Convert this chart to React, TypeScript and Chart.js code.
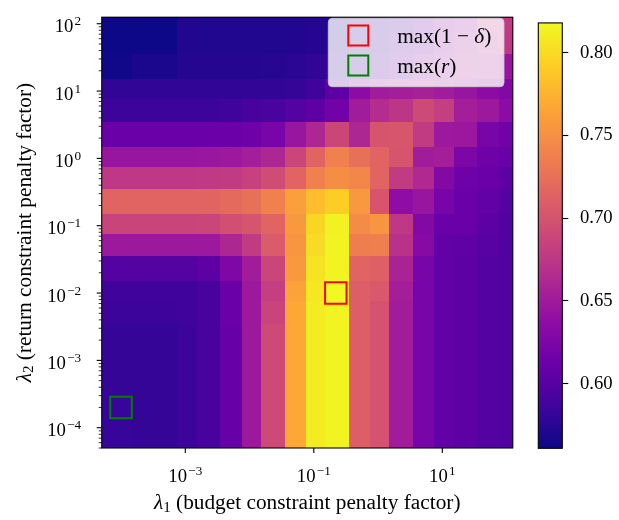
import React, { useEffect, useRef } from "react";
import { Chart, registerables } from "chart.js";
Chart.register(...registerables);

// ---------------- data ----------------
// λ1 (budget constraint penalty factor) – columns, left → right
const lambda1 = [1e-4, 2e-4, 5e-4, 1e-3, 2e-3, 5e-3, 1e-2, 2e-2, 5e-2, 0.1, 0.2, 0.5, 1, 2, 5, 10, 20, 50, 100];
// λ2 (return constraint penalty factor) – rows, top → bottom
const lambda2 = [100, 50, 20, 10, 5, 2, 1, 0.5, 0.2, 0.1, 0.05, 0.02, 0.01, 0.005, 0.002, 0.001, 5e-4, 2e-4, 1e-4];

// 1 − δ for every (λ2 row, λ1 column)
const oneMinusDelta: number[][] = [
  [0.561, 0.561, 0.561, 0.571, 0.571, 0.571, 0.571, 0.571, 0.571, 0.573, 0.573, 0.579, 0.584, 0.597, 0.612, 0.633, 0.645, 0.676, 0.679],
  [0.561, 0.561, 0.561, 0.571, 0.571, 0.571, 0.571, 0.571, 0.572, 0.573, 0.576, 0.581, 0.586, 0.599, 0.617, 0.638, 0.651, 0.669, 0.676],
  [0.563, 0.568, 0.568, 0.573, 0.573, 0.573, 0.573, 0.574, 0.576, 0.579, 0.581, 0.586, 0.594, 0.612, 0.633, 0.645, 0.653, 0.653, 0.645],
  [0.579, 0.579, 0.579, 0.579, 0.579, 0.579, 0.580, 0.580, 0.581, 0.586, 0.604, 0.635, 0.651, 0.653, 0.656, 0.651, 0.645, 0.635, 0.630],
  [0.584, 0.584, 0.584, 0.584, 0.584, 0.586, 0.591, 0.592, 0.599, 0.604, 0.617, 0.651, 0.666, 0.674, 0.692, 0.682, 0.653, 0.648, 0.635],
  [0.612, 0.612, 0.612, 0.612, 0.613, 0.613, 0.615, 0.622, 0.645, 0.661, 0.689, 0.661, 0.702, 0.703, 0.679, 0.648, 0.647, 0.622, 0.617],
  [0.645, 0.645, 0.645, 0.645, 0.646, 0.648, 0.653, 0.661, 0.689, 0.715, 0.738, 0.725, 0.715, 0.702, 0.651, 0.653, 0.625, 0.615, 0.612],
  [0.676, 0.676, 0.676, 0.676, 0.677, 0.679, 0.684, 0.694, 0.715, 0.738, 0.748, 0.743, 0.715, 0.679, 0.663, 0.630, 0.615, 0.612, 0.604],
  [0.715, 0.715, 0.715, 0.715, 0.715, 0.720, 0.725, 0.738, 0.761, 0.782, 0.792, 0.756, 0.702, 0.638, 0.645, 0.622, 0.612, 0.607, 0.599],
  [0.687, 0.687, 0.687, 0.687, 0.689, 0.697, 0.702, 0.715, 0.756, 0.797, 0.813, 0.746, 0.754, 0.676, 0.630, 0.612, 0.612, 0.604, 0.597],
  [0.648, 0.648, 0.648, 0.648, 0.648, 0.661, 0.679, 0.707, 0.754, 0.800, 0.815, 0.736, 0.737, 0.671, 0.633, 0.607, 0.606, 0.602, 0.597],
  [0.599, 0.599, 0.599, 0.599, 0.604, 0.627, 0.651, 0.689, 0.756, 0.805, 0.815, 0.715, 0.712, 0.658, 0.622, 0.607, 0.604, 0.599, 0.597],
  [0.586, 0.586, 0.586, 0.586, 0.591, 0.612, 0.648, 0.682, 0.764, 0.808, 0.818, 0.710, 0.705, 0.653, 0.622, 0.607, 0.604, 0.599, 0.597],
  [0.584, 0.584, 0.584, 0.586, 0.591, 0.612, 0.648, 0.687, 0.767, 0.810, 0.815, 0.710, 0.700, 0.651, 0.622, 0.607, 0.604, 0.599, 0.597],
  [0.581, 0.581, 0.581, 0.584, 0.591, 0.609, 0.648, 0.692, 0.767, 0.810, 0.815, 0.710, 0.700, 0.651, 0.622, 0.607, 0.604, 0.599, 0.597],
  [0.581, 0.581, 0.581, 0.584, 0.591, 0.609, 0.648, 0.692, 0.767, 0.810, 0.815, 0.710, 0.700, 0.651, 0.622, 0.607, 0.604, 0.599, 0.597],
  [0.581, 0.581, 0.581, 0.584, 0.591, 0.609, 0.648, 0.692, 0.767, 0.810, 0.815, 0.710, 0.700, 0.651, 0.622, 0.607, 0.604, 0.599, 0.597],
  [0.582, 0.581, 0.581, 0.584, 0.591, 0.609, 0.648, 0.692, 0.767, 0.810, 0.815, 0.710, 0.700, 0.651, 0.622, 0.607, 0.604, 0.599, 0.597],
  [0.582, 0.581, 0.581, 0.584, 0.591, 0.609, 0.648, 0.692, 0.767, 0.810, 0.815, 0.710, 0.700, 0.651, 0.622, 0.607, 0.604, 0.599, 0.597],
];

const bestDeltaPoint = [{ x: 0.22, y: 0.01 }];   // max(1 − δ)
const bestReturnPoint = [{ x: 1e-4, y: 2e-4 }];  // max(r)

const xTickValues = [1e-3, 1e-1, 1e1];
const yTickValues = [1e-4, 1e-3, 1e-2, 1e-1, 1e0, 1e1, 1e2];
const colorbarTicks = [0.6, 0.65, 0.7, 0.75, 0.8];

// ---------------- styling ----------------
const FONT = '"Liberation Serif", "Times New Roman", serif';
const TICK_SIZE = 18.7;
const SUP_SIZE = 13.2;
const LABEL_SIZE = 21.3;
const PLOT_LEFT = 101.7;
const PLOT_RIGHT = 514.3;
const PLOT_TOP = 9;
const PLOT_BOTTOM = 448;
const MAIN_W = 530;
const H = 520;

const plasmaStops = ["#0d0887", "#41049d", "#6a00a8", "#8f0da4", "#b12a90", "#cc4778", "#e16462", "#f2844b", "#fca636", "#fcce25", "#f0f921"];
const plasmaRgb = plasmaStops.map((h) => [parseInt(h.slice(1, 3), 16), parseInt(h.slice(3, 5), 16), parseInt(h.slice(5, 7), 16)]);
function plasma(t: number): string {
  const c = Math.max(0, Math.min(1, t));
  const p = c * (plasmaRgb.length - 1);
  const i = Math.min(Math.floor(p), plasmaRgb.length - 2);
  const f = p - i;
  const a = plasmaRgb[i], b = plasmaRgb[i + 1];
  return `rgb(${Math.round(a[0] + (b[0] - a[0]) * f)},${Math.round(a[1] + (b[1] - a[1]) * f)},${Math.round(a[2] + (b[2] - a[2]) * f)})`;
}

function cellEdges(vals: number[]): number[] {
  const n = vals.length;
  const e = [vals[0] - (vals[1] - vals[0]) / 2];
  for (let i = 1; i < n; i++) e.push((vals[i - 1] + vals[i]) / 2);
  e.push(vals[n - 1] + (vals[n - 1] - vals[n - 2]) / 2);
  return e;
}

type Seg = { t: string; it?: boolean; size?: number; dy?: number };
function segWidth(ctx: CanvasRenderingContext2D, segs: Seg[], base: number) {
  let w = 0;
  for (const s of segs) {
    ctx.font = `${s.it ? "italic " : ""}${s.size || base}px ${FONT}`;
    w += ctx.measureText(s.t).width;
  }
  return w;
}
function drawSegs(ctx: CanvasRenderingContext2D, segs: Seg[], x: number, y: number, base: number) {
  let cx = x;
  for (const s of segs) {
    ctx.font = `${s.it ? "italic " : ""}${s.size || base}px ${FONT}`;
    ctx.fillText(s.t, cx, y + (s.dy || 0));
    cx += ctx.measureText(s.t).width;
  }
}
function powSegs(v: number): Seg[] {
  const e = Math.round(Math.log10(v));
  const es = e < 0 ? "\u2212" + -e : String(e);
  return [{ t: "10" }, { t: "\u2009", size: 6 }, { t: es, size: SUP_SIZE, dy: -6.8 }];
}

export default function App() {
  const mainRef = useRef<HTMLCanvasElement>(null);
  const cbRef = useRef<HTMLCanvasElement>(null);

  useEffect(() => {
    const all = oneMinusDelta.flat();
    const vmin = Math.min(...all);
    const vmax = Math.max(...all);
    const xEdges = cellEdges(lambda1);
    const yEdges = cellEdges(lambda2);
    const xMin = Math.min(...xEdges), xMax = Math.max(...xEdges);
    const yMin = Math.min(...yEdges), yMax = Math.max(...yEdges);

    const heatmapPlugin = {
      id: "heatmap",
      beforeDatasetsDraw(chart: any) {
        const { ctx } = chart;
        const xs = chart.scales.x, ys = chart.scales.y;
        ctx.save();
        for (let r = 0; r < lambda2.length; r++) {
          const y0 = Math.round(ys.getPixelForValue(yEdges[r]));
          const y1 = Math.round(ys.getPixelForValue(yEdges[r + 1]));
          for (let c = 0; c < lambda1.length; c++) {
            const x0 = Math.round(xs.getPixelForValue(xEdges[c]));
            const x1 = Math.round(xs.getPixelForValue(xEdges[c + 1]));
            ctx.fillStyle = plasma((oneMinusDelta[r][c] - vmin) / (vmax - vmin));
            ctx.fillRect(Math.min(x0, x1), Math.min(y0, y1), Math.abs(x1 - x0), Math.abs(y1 - y0));
          }
        }
        ctx.restore();
      },
    };

    const decorPlugin = {
      id: "decor",
      afterDraw(chart: any) {
        const { ctx, chartArea: a } = chart;
        const xs = chart.scales.x, ys = chart.scales.y;
        ctx.save();
        ctx.strokeStyle = "#000";
        ctx.fillStyle = "#000";
        // frame
        ctx.lineWidth = 1.1;
        ctx.strokeRect(a.left, a.top, a.right - a.left, a.bottom - a.top);
        // y ticks (major + minor)
        ctx.lineWidth = 1.1;
        for (const v of yTickValues) {
          const y = ys.getPixelForValue(v);
          ctx.beginPath(); ctx.moveTo(a.left - 5, y); ctx.lineTo(a.left, y); ctx.stroke();
        }
        ctx.lineWidth = 0.8;
        for (let d = Math.floor(Math.log10(yMin)); d <= Math.ceil(Math.log10(yMax)); d++) {
          for (let k = 2; k <= 9; k++) {
            const v = k * Math.pow(10, d);
            if (v < yMin || v > yMax) continue;
            const y = ys.getPixelForValue(v);
            ctx.beginPath(); ctx.moveTo(a.left - 3, y); ctx.lineTo(a.left, y); ctx.stroke();
          }
        }
        // x ticks
        ctx.lineWidth = 1.1;
        for (const v of xTickValues) {
          const x = xs.getPixelForValue(v);
          ctx.beginPath(); ctx.moveTo(x, a.bottom); ctx.lineTo(x, a.bottom + 5); ctx.stroke();
        }
        // tick labels
        ctx.textAlign = "left";
        ctx.textBaseline = "alphabetic";
        for (const v of xTickValues) {
          const x = xs.getPixelForValue(v);
          const segs = powSegs(v);
          const w = segWidth(ctx, segs, TICK_SIZE);
          drawSegs(ctx, segs, x - w / 2, a.bottom + 33.7, TICK_SIZE);
        }
        for (const v of yTickValues) {
          const y = ys.getPixelForValue(v);
          const segs = powSegs(v);
          const w = segWidth(ctx, segs, TICK_SIZE);
          drawSegs(ctx, segs, a.left - 20.5 - w, y + 8.5, TICK_SIZE);
        }
        // axis titles
        const xt: Seg[] = [
          { t: "\u03bb", it: true },
          { t: "1", size: 15, dy: 2.5 },
          { t: " (budget constraint penalty factor)" },
        ];
        const xw = segWidth(ctx, xt, LABEL_SIZE);
        drawSegs(ctx, xt, (a.left + a.right) / 2 - xw / 2, 509, LABEL_SIZE);
        const yt: Seg[] = [
          { t: "\u03bb", it: true },
          { t: "2", size: 15, dy: 2.5 },
          { t: " (return constraint penalty factor)" },
        ];
        const yw = segWidth(ctx, yt, LABEL_SIZE);
        ctx.save();
        ctx.translate(30.5, (a.top + a.bottom) / 2);
        ctx.rotate(-Math.PI / 2);
        drawSegs(ctx, yt, -yw / 2, 0, LABEL_SIZE);
        ctx.restore();
        // legend
        const lx = 328.3, ly = 18.3, lw = 175.7, lh = 68.4, rr = 4;
        ctx.beginPath();
        ctx.moveTo(lx + rr, ly);
        ctx.arcTo(lx + lw, ly, lx + lw, ly + lh, rr);
        ctx.arcTo(lx + lw, ly + lh, lx, ly + lh, rr);
        ctx.arcTo(lx, ly + lh, lx, ly, rr);
        ctx.arcTo(lx, ly, lx + lw, ly, rr);
        ctx.closePath();
        ctx.fillStyle = "rgba(255,255,255,0.8)";
        ctx.fill();
        ctx.strokeStyle = "rgba(204,204,204,0.8)";
        ctx.lineWidth = 1;
        ctx.stroke();
        ctx.lineWidth = 2;
        ctx.strokeStyle = "#ff0000";
        ctx.strokeRect(348.3, 25.5, 20, 20);
        ctx.strokeStyle = "#008000";
        ctx.strokeRect(348.3, 55.5, 20, 20);
        ctx.fillStyle = "#000";
        drawSegs(ctx, [{ t: "max(1" }, { t: " \u2212 " }, { t: "\u03b4", it: true }, { t: ")" }], 397.3, 42.7, LABEL_SIZE);
        drawSegs(ctx, [{ t: "max(" }, { t: "r", it: true }, { t: ")" }], 397.3, 72.7, LABEL_SIZE);
        ctx.restore();
      },
    };

    const pointStyle = {
      pointStyle: "rect",
      pointRadius: 15.2,
      pointHoverRadius: 15.2,
      pointBorderWidth: 2,
      pointBackgroundColor: "rgba(0,0,0,0)",
      showLine: false,
    };

    const main = new Chart(mainRef.current as HTMLCanvasElement, {
      type: "scatter",
      data: {
        datasets: [
          { label: "max(1 − δ)", data: bestDeltaPoint, pointBorderColor: "#ff0000", ...pointStyle } as any,
          { label: "max(r)", data: bestReturnPoint, pointBorderColor: "#008000", ...pointStyle } as any,
        ],
      },
      options: {
        responsive: false,
        animation: false,
        devicePixelRatio: 1,
        events: [],
        layout: { padding: { left: 0, right: MAIN_W - PLOT_RIGHT, top: PLOT_TOP, bottom: 0 } },
        plugins: { legend: { display: false }, tooltip: { enabled: false } },
        scales: {
          x: {
            type: "logarithmic",
            min: xMin,
            max: xMax,
            grid: { display: false },
            border: { display: false },
            ticks: { display: false },
            afterFit: (s: any) => { s.height = H - PLOT_BOTTOM; },
          },
          y: {
            type: "logarithmic",
            min: yMin,
            max: yMax,
            grid: { display: false },
            border: { display: false },
            ticks: { display: false },
            afterFit: (s: any) => { s.width = PLOT_LEFT; },
          },
        },
      } as any,
      plugins: [heatmapPlugin, decorPlugin],
    });

    const colorbarPlugin = {
      id: "colorbar",
      beforeDatasetsDraw(chart: any) {
        const { ctx, chartArea: a } = chart;
        const g = ctx.createLinearGradient(0, a.bottom, 0, a.top);
        for (let i = 0; i <= 50; i++) g.addColorStop(i / 50, plasma(i / 50));
        ctx.save();
        ctx.fillStyle = g;
        ctx.fillRect(a.left, a.top, a.right - a.left, a.bottom - a.top);
        ctx.restore();
      },
      afterDraw(chart: any) {
        const { ctx, chartArea: a } = chart;
        ctx.save();
        ctx.strokeStyle = "#000";
        ctx.lineWidth = 1.1;
        ctx.strokeRect(a.left, a.top, a.right - a.left, a.bottom - a.top);
        ctx.restore();
      },
    };

    const cb = new Chart(cbRef.current as HTMLCanvasElement, {
      type: "scatter",
      data: { datasets: [] },
      options: {
        responsive: false,
        animation: false,
        devicePixelRatio: 1,
        events: [],
        layout: { padding: { left: 18.3, right: 0, top: 8.3, bottom: H - 448.3 } },
        plugins: { legend: { display: false }, tooltip: { enabled: false } },
        scales: {
          x: { display: false, min: 0, max: 1 },
          y: {
            position: "right",
            min: vmin,
            max: vmax,
            afterBuildTicks: (s: any) => { s.ticks = colorbarTicks.map((v) => ({ value: v })); },
            ticks: {
              font: { family: FONT, size: TICK_SIZE },
              color: "#000",
              padding: 11.7,
              autoSkip: false,
              callback: (v: any) => Number(v).toFixed(2),
            },
            grid: { drawOnChartArea: false, drawTicks: true, tickLength: 6, tickColor: "#000", tickWidth: 1.1 },
            border: { display: false },
            afterFit: (s: any) => { s.width = 99 - 42.3; },
          },
        },
      } as any,
      plugins: [colorbarPlugin],
    });

    return () => {
      main.destroy();
      cb.destroy();
    };
  }, []);

  return (
    <div style={{ position: "fixed", left: 0, top: 0, width: 619, height: H, background: "#fff" }}>
      <canvas ref={mainRef} width={MAIN_W} height={H} style={{ position: "absolute", left: 0, top: 0 }} />
      <canvas ref={cbRef} width={99} height={H} style={{ position: "absolute", left: 520, top: 0 }} />
    </div>
  );
}
